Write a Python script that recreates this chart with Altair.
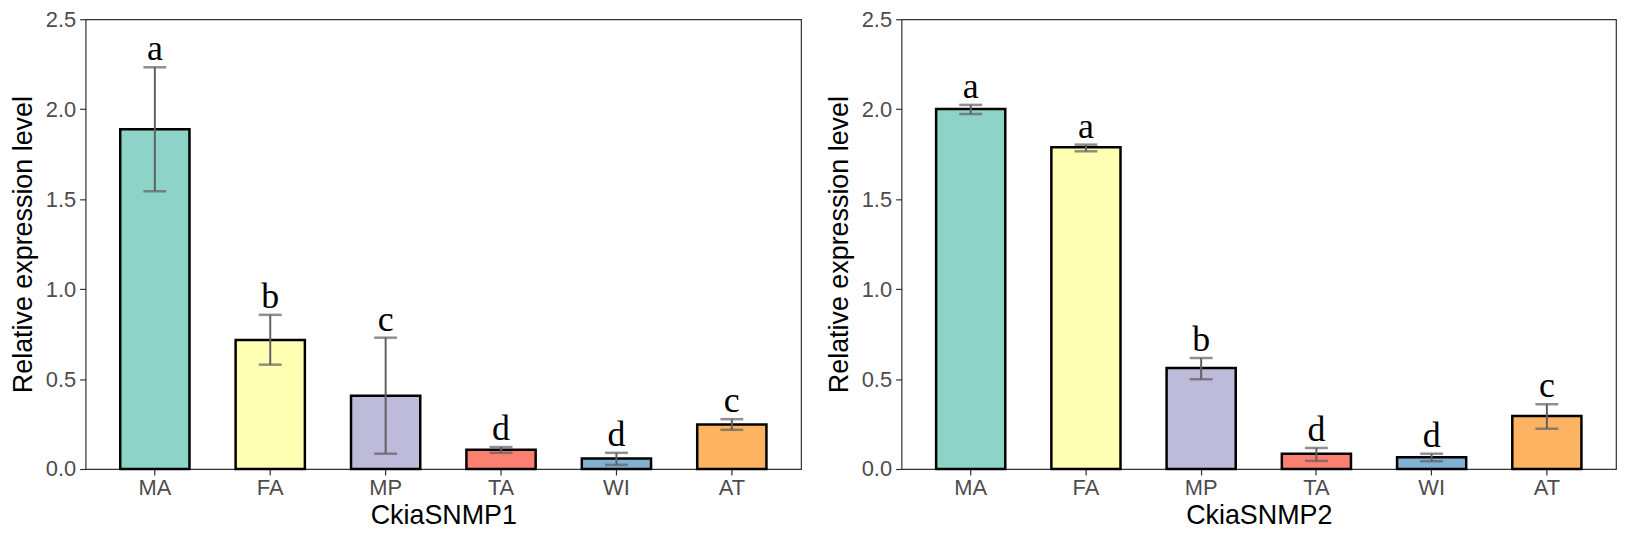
import altair as alt
import pandas as pd

categories = ["MA", "FA", "MP", "TA", "WI", "AT"]
colors = ["#8DD3C7", "#FFFFB3", "#BEBADA", "#FB8072", "#80B1D3", "#FDB462"]

snmp1_mean = [1.888, 0.717, 0.407, 0.107, 0.058, 0.247]
snmp1_lo = [1.544, 0.580, 0.085, 0.090, 0.023, 0.218]
snmp1_hi = [2.233, 0.857, 0.730, 0.122, 0.090, 0.277]
snmp1_letters = ["a", "b", "c", "d", "d", "c"]

snmp2_mean = [2.001, 1.788, 0.561, 0.085, 0.066, 0.294]
snmp2_lo = [1.973, 1.766, 0.499, 0.045, 0.043, 0.224]
snmp2_hi = [2.024, 1.803, 0.617, 0.117, 0.085, 0.360]
snmp2_letters = ["a", "a", "b", "d", "d", "c"]

y_ticks = [0.0, 0.5, 1.0, 1.5, 2.0, 2.5]


def panel(gene, mean, lo, hi, letters, width):
    df = pd.DataFrame({"cat": categories, "mean": mean, "lo": lo, "hi": hi, "letter": letters})
    x = alt.X("cat:N", sort=categories,
              scale=alt.Scale(paddingInner=0.4, paddingOuter=0.3),
              axis=alt.Axis(title=gene, labelAngle=0))
    y = alt.Y("mean:Q", scale=alt.Scale(domain=[0, 2.5], nice=False, zero=True),
              axis=alt.Axis(title="Relative expression level", values=y_ticks, format=".1f"))
    base = alt.Chart(df)
    bars = base.mark_bar(stroke="black", strokeWidth=2.5).encode(
        x=x, y=y,
        fill=alt.Fill("cat:N", scale=alt.Scale(domain=categories, range=colors), legend=None),
    )
    rule = base.mark_rule(color="#606060", strokeWidth=2).encode(
        x=alt.X("cat:N", sort=categories), y="lo:Q", y2="hi:Q")
    cap_lo = base.mark_tick(color="#606060", size=23, thickness=2.5).encode(
        x=alt.X("cat:N", sort=categories), y="lo:Q")
    cap_hi = base.mark_tick(color="#606060", size=23, thickness=2.5).encode(
        x=alt.X("cat:N", sort=categories), y="hi:Q")
    text = base.mark_text(font="Liberation Serif", fontSize=36, baseline="alphabetic",
                          dy=-7, color="black").encode(
        x=alt.X("cat:N", sort=categories), y="hi:Q", text="letter:N")
    return alt.layer(bars, rule, cap_lo, cap_hi, text).properties(width=width, height=452)


left = panel("CkiaSNMP1", snmp1_mean, snmp1_lo, snmp1_hi, snmp1_letters, 719)
right = panel("CkiaSNMP2", snmp2_mean, snmp2_lo, snmp2_hi, snmp2_letters, 718)

chart = alt.hconcat(left, right, spacing=22).properties(
    padding={"left": 0, "top": -2, "right": 0, "bottom": 0}
).configure_view(
    stroke="#333333", strokeWidth=1.2
).configure_axis(
    grid=False,
    domain=False,
    tickColor="#333333",
    tickSize=6,
    tickWidth=1.2,
    labelFont="Liberation Sans",
    labelFontSize=22,
    labelColor="#4D4D4D",
    titleFont="Liberation Sans",
    titleFontSize=27,
    titleFontWeight="normal",
    titleColor="black",
).configure_axisY(
    labelPadding=4, titlePadding=8
).configure_axisX(
    labelPadding=3, titlePadding=4
)

chart.save("out.html", embed_options={"renderer": "svg", "actions": False})
